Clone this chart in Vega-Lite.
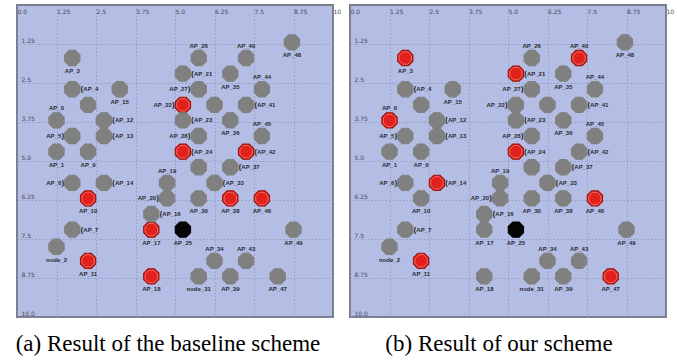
{
  "$schema": "https://vega.github.io/schema/vega-lite/v6.json",
  "padding": {"left": 14, "top": 4, "right": 0, "bottom": 0},
  "background": "white",
  "bounds": "flush",
  "spacing": 17,
  "config": {
    "view": {"fill": "#b4bde3", "stroke": "#7a7c8c", "strokeWidth": 2},
    "axis": {
      "title": null,
      "domain": false,
      "ticks": false,
      "tickSize": 0,
      "labelFont": "DejaVu Sans",
      "labelFontSize": 6,
      "labelColor": "#4a4a58",
      "labelOverlap": false,
      "labelBound": false,
      "labelFlush": false,
      "grid": true,
      "gridDash": [1.5, 2],
      "gridColor": "#8b94bd",
      "gridWidth": 0.8
    },
    "title": {"font": "Liberation Serif", "fontSize": 23, "fontWeight": "normal", "color": "#000000", "orient": "bottom", "anchor": "middle", "offset": 16}
  },
  "datasets": {
    "nodes": [
      {"label": "AP_3", "x": 1.75, "y": 1.7, "a": "idle", "b": "active"},
      {"label": "AP_4", "x": 1.75, "y": 2.7, "a": "idle", "b": "idle"},
      {"label": "AP_15", "x": 3.25, "y": 2.7, "a": "idle", "b": "idle"},
      {"label": "", "x": 2.25, "y": 3.2, "a": "idle", "b": "idle"},
      {"label": "AP_0", "x": 1.25, "y": 3.7, "a": "idle", "b": "active"},
      {"label": "AP_12", "x": 2.75, "y": 3.7, "a": "idle", "b": "idle"},
      {"label": "AP_5", "x": 1.75, "y": 4.2, "a": "idle", "b": "idle"},
      {"label": "AP_13", "x": 2.75, "y": 4.2, "a": "idle", "b": "idle"},
      {"label": "AP_1", "x": 1.25, "y": 4.7, "a": "idle", "b": "idle"},
      {"label": "AP_9", "x": 2.25, "y": 4.7, "a": "idle", "b": "idle"},
      {"label": "AP_6", "x": 1.75, "y": 5.7, "a": "idle", "b": "idle"},
      {"label": "AP_14", "x": 2.75, "y": 5.7, "a": "idle", "b": "active"},
      {"label": "AP_10", "x": 2.25, "y": 6.2, "a": "active", "b": "idle"},
      {"label": "AP_7", "x": 1.75, "y": 7.2, "a": "idle", "b": "idle"},
      {"label": "node_2", "x": 1.25, "y": 7.75, "a": "idle", "b": "idle"},
      {"label": "AP_11", "x": 2.25, "y": 8.2, "a": "active", "b": "active"},
      {"label": "AP_17", "x": 4.25, "y": 7.2, "a": "active", "b": "idle"},
      {"label": "AP_18", "x": 4.25, "y": 8.7, "a": "active", "b": "idle"},
      {"label": "AP_20", "x": 4.75, "y": 6.2, "a": "idle", "b": "idle"},
      {"label": "AP_16", "x": 4.25, "y": 6.7, "a": "idle", "b": "idle"},
      {"label": "AP_19", "x": 4.75, "y": 5.7, "a": "idle", "b": "idle"},
      {"label": "AP_24", "x": 5.25, "y": 4.7, "a": "active", "b": "active"},
      {"label": "AP_42", "x": 7.25, "y": 4.7, "a": "active", "b": "idle"},
      {"label": "", "x": 5.75, "y": 5.2, "a": "idle", "b": "idle"},
      {"label": "AP_37", "x": 6.75, "y": 5.2, "a": "idle", "b": "idle"},
      {"label": "AP_33", "x": 6.25, "y": 5.7, "a": "idle", "b": "idle"},
      {"label": "AP_30", "x": 5.75, "y": 6.2, "a": "idle", "b": "idle"},
      {"label": "AP_38", "x": 6.75, "y": 6.2, "a": "active", "b": "idle"},
      {"label": "AP_46", "x": 7.75, "y": 6.2, "a": "active", "b": "active"},
      {"label": "AP_25", "x": 5.25, "y": 7.2, "a": "sink", "b": "sink"},
      {"label": "AP_49", "x": 8.75, "y": 7.2, "a": "idle", "b": "idle"},
      {"label": "AP_34", "x": 6.25, "y": 8.2, "a": "idle", "b": "idle"},
      {"label": "AP_43", "x": 7.25, "y": 8.2, "a": "idle", "b": "idle"},
      {"label": "node_31", "x": 5.75, "y": 8.7, "a": "idle", "b": "idle"},
      {"label": "AP_39", "x": 6.75, "y": 8.7, "a": "idle", "b": "idle"},
      {"label": "AP_47", "x": 8.25, "y": 8.7, "a": "idle", "b": "active"},
      {"label": "AP_26", "x": 5.75, "y": 1.7, "a": "idle", "b": "idle"},
      {"label": "AP_40", "x": 7.25, "y": 1.7, "a": "idle", "b": "active"},
      {"label": "AP_48", "x": 8.7, "y": 1.2, "a": "idle", "b": "idle"},
      {"label": "AP_21", "x": 5.25, "y": 2.2, "a": "idle", "b": "active"},
      {"label": "AP_35", "x": 6.75, "y": 2.2, "a": "idle", "b": "idle"},
      {"label": "AP_27", "x": 5.75, "y": 2.7, "a": "idle", "b": "idle"},
      {"label": "AP_44", "x": 7.75, "y": 2.7, "a": "idle", "b": "idle"},
      {"label": "AP_22", "x": 5.25, "y": 3.2, "a": "active", "b": "idle"},
      {"label": "", "x": 6.25, "y": 3.2, "a": "idle", "b": "idle"},
      {"label": "AP_41", "x": 7.25, "y": 3.2, "a": "idle", "b": "idle"},
      {"label": "AP_23", "x": 5.25, "y": 3.7, "a": "idle", "b": "idle"},
      {"label": "AP_36", "x": 6.75, "y": 3.7, "a": "idle", "b": "idle"},
      {"label": "AP_45", "x": 7.75, "y": 4.2, "a": "idle", "b": "idle"},
      {"label": "AP_28", "x": 5.75, "y": 4.2, "a": "idle", "b": "idle"}
    ]
  },
  "hconcat": [
    {
      "width": 316,
      "height": 312,
      "data": {"name": "nodes"},
      "title": {"text": "(a) Result of the baseline scheme", "dx": -7},
      "encoding": {
        "x": {"field": "x", "type": "quantitative", "scale": {"domain": [0, 10], "nice": false, "zero": false},
          "axis": {"orient": "top", "values": [0, 1.25, 2.5, 3.75, 5, 6.25, 7.5, 8.75, 10], "labelAlign": "left", "labelBaseline": "top", "labelPadding": -3, "labelExpr": "datum.value == 10 ? '10' : (datum.value % 1 == 0 ? format(datum.value, '.1f') : format(datum.value, '.2~f'))"}},
        "y": {"field": "y", "type": "quantitative", "scale": {"domain": [0, 10], "nice": false, "zero": false, "reverse": true},
          "axis": {"orient": "left", "values": [1.25, 2.5, 3.75, 5, 6.25, 7.5, 8.75, 10], "labelAlign": "left", "labelBaseline": "bottom", "labelPadding": -4, "labelOffset": -1, "labelExpr": "datum.value % 1 == 0 ? format(datum.value, '.1f') : format(datum.value, '.2~f')"}}
      },
      "layer": [
        {"mark": {"type": "point", "shape": "M -0.414 -1 L 0.414 -1 L 1 -0.414 L 1 0.414 L 0.414 1 L -0.414 1 L -1 0.414 L -1 -0.414 Z", "filled": true, "size": 230, "opacity": 1, "strokeWidth": 1.2},
         "encoding": {
           "fill": {"field": "a", "type": "nominal", "scale": {"domain": ["idle", "active", "sink"], "range": ["#808080", "#e3211c", "#050505"]}, "legend": null},
           "stroke": {"field": "a", "type": "nominal", "scale": {"domain": ["idle", "active", "sink"], "range": ["#808080", "#9c1410", "#050505"]}, "legend": null}
         }},
        {"transform": [{"filter": "datum.a == 'active'"}],
         "mark": {"type": "point", "shape": "M -0.414 -1 L 0.414 -1 L 1 -0.414 L 1 0.414 L 0.414 1 L -0.414 1 L -1 0.414 L -1 -0.414 Z", "filled": false, "size": 150, "opacity": 1, "stroke": "#f27d74", "strokeWidth": 0.8}},
        {"transform": [{"filter": "isValid(datum.label) && length(datum.label) > 0 && indexof(['AP_0','AP_19','AP_34','AP_43','AP_26','AP_40','AP_44','AP_45','AP_4','AP_12','AP_13','AP_14','AP_7','AP_16','AP_24','AP_42','AP_37','AP_33','AP_21','AP_41','AP_23','AP_5','AP_6','AP_20','AP_27','AP_22','AP_28'], datum.label) < 0"}],
         "mark": {"type": "text", "font": "Liberation Sans", "fontWeight": "bold", "fontSize": 6, "color": "#2b2b33", "dy": 13, "baseline": "middle"},
         "encoding": {"text": {"field": "label"}}},
        {"transform": [{"filter": {"field": "label", "oneOf": ["AP_0","AP_19","AP_34","AP_43","AP_26","AP_40","AP_44","AP_45"]}}],
         "mark": {"type": "text", "font": "Liberation Sans", "fontWeight": "bold", "fontSize": 6, "color": "#2b2b33", "dy": -12, "baseline": "middle"},
         "encoding": {"text": {"field": "label"}}},
        {"transform": [{"filter": {"field": "label", "oneOf": ["AP_4","AP_12","AP_13","AP_14","AP_7","AP_16","AP_24","AP_42","AP_37","AP_33","AP_21","AP_41","AP_23"]}}],
         "mark": {"type": "text", "font": "Liberation Sans", "fontWeight": "bold", "fontSize": 6, "color": "#2b2b33", "dx": 11, "align": "left", "baseline": "middle"},
         "encoding": {"text": {"field": "label"}}},
        {"transform": [{"filter": {"field": "label", "oneOf": ["AP_4","AP_12","AP_13","AP_14","AP_7","AP_16","AP_24","AP_42","AP_37","AP_33","AP_21","AP_41","AP_23"]}}],
         "mark": {"type": "text", "font": "Liberation Sans", "fontWeight": "bold", "fontSize": 7, "color": "#111111", "dx": 9.5, "align": "center", "baseline": "middle", "text": "("},
         "encoding": {}},
        {"transform": [{"filter": {"field": "label", "oneOf": ["AP_5","AP_6","AP_20","AP_27","AP_22","AP_28"]}}],
         "mark": {"type": "text", "font": "Liberation Sans", "fontWeight": "bold", "fontSize": 6, "color": "#2b2b33", "dx": -11, "align": "right", "baseline": "middle"},
         "encoding": {"text": {"field": "label"}}},
        {"transform": [{"filter": {"field": "label", "oneOf": ["AP_5","AP_6","AP_20","AP_27","AP_22","AP_28"]}}],
         "mark": {"type": "text", "font": "Liberation Sans", "fontWeight": "bold", "fontSize": 7, "color": "#111111", "dx": -9.5, "align": "center", "baseline": "middle", "text": ")"},
         "encoding": {}}
      ]
    },
    {
      "width": 316,
      "height": 312,
      "data": {"name": "nodes"},
      "title": {"text": "(b) Result of our scheme", "dx": -9},
      "encoding": {
        "x": {"field": "x", "type": "quantitative", "scale": {"domain": [0, 10], "nice": false, "zero": false},
          "axis": {"orient": "top", "values": [0, 1.25, 2.5, 3.75, 5, 6.25, 7.5, 8.75, 10], "labelAlign": "left", "labelBaseline": "top", "labelPadding": -3, "labelExpr": "datum.value == 10 ? '10' : (datum.value % 1 == 0 ? format(datum.value, '.1f') : format(datum.value, '.2~f'))"}},
        "y": {"field": "y", "type": "quantitative", "scale": {"domain": [0, 10], "nice": false, "zero": false, "reverse": true},
          "axis": {"orient": "left", "values": [1.25, 2.5, 3.75, 5, 6.25, 7.5, 8.75, 10], "labelAlign": "left", "labelBaseline": "bottom", "labelPadding": -4, "labelOffset": -1, "labelExpr": "datum.value % 1 == 0 ? format(datum.value, '.1f') : format(datum.value, '.2~f')"}}
      },
      "layer": [
        {"mark": {"type": "point", "shape": "M -0.414 -1 L 0.414 -1 L 1 -0.414 L 1 0.414 L 0.414 1 L -0.414 1 L -1 0.414 L -1 -0.414 Z", "filled": true, "size": 230, "opacity": 1, "strokeWidth": 1.2},
         "encoding": {
           "fill": {"field": "b", "type": "nominal", "scale": {"domain": ["idle", "active", "sink"], "range": ["#808080", "#e3211c", "#050505"]}, "legend": null},
           "stroke": {"field": "b", "type": "nominal", "scale": {"domain": ["idle", "active", "sink"], "range": ["#808080", "#9c1410", "#050505"]}, "legend": null}
         }},
        {"transform": [{"filter": "datum.b == 'active'"}],
         "mark": {"type": "point", "shape": "M -0.414 -1 L 0.414 -1 L 1 -0.414 L 1 0.414 L 0.414 1 L -0.414 1 L -1 0.414 L -1 -0.414 Z", "filled": false, "size": 150, "opacity": 1, "stroke": "#f27d74", "strokeWidth": 0.8}},
        {"transform": [{"filter": "isValid(datum.label) && length(datum.label) > 0 && indexof(['AP_0','AP_19','AP_34','AP_43','AP_26','AP_40','AP_44','AP_45','AP_4','AP_12','AP_13','AP_14','AP_7','AP_16','AP_24','AP_42','AP_37','AP_33','AP_21','AP_41','AP_23','AP_5','AP_6','AP_20','AP_27','AP_22','AP_28'], datum.label) < 0"}],
         "mark": {"type": "text", "font": "Liberation Sans", "fontWeight": "bold", "fontSize": 6, "color": "#2b2b33", "dy": 13, "baseline": "middle"},
         "encoding": {"text": {"field": "label"}}},
        {"transform": [{"filter": {"field": "label", "oneOf": ["AP_0","AP_19","AP_34","AP_43","AP_26","AP_40","AP_44","AP_45"]}}],
         "mark": {"type": "text", "font": "Liberation Sans", "fontWeight": "bold", "fontSize": 6, "color": "#2b2b33", "dy": -12, "baseline": "middle"},
         "encoding": {"text": {"field": "label"}}},
        {"transform": [{"filter": {"field": "label", "oneOf": ["AP_4","AP_12","AP_13","AP_14","AP_7","AP_16","AP_24","AP_42","AP_37","AP_33","AP_21","AP_41","AP_23"]}}],
         "mark": {"type": "text", "font": "Liberation Sans", "fontWeight": "bold", "fontSize": 6, "color": "#2b2b33", "dx": 11, "align": "left", "baseline": "middle"},
         "encoding": {"text": {"field": "label"}}},
        {"transform": [{"filter": {"field": "label", "oneOf": ["AP_4","AP_12","AP_13","AP_14","AP_7","AP_16","AP_24","AP_42","AP_37","AP_33","AP_21","AP_41","AP_23"]}}],
         "mark": {"type": "text", "font": "Liberation Sans", "fontWeight": "bold", "fontSize": 7, "color": "#111111", "dx": 9.5, "align": "center", "baseline": "middle", "text": "("},
         "encoding": {}},
        {"transform": [{"filter": {"field": "label", "oneOf": ["AP_5","AP_6","AP_20","AP_27","AP_22","AP_28"]}}],
         "mark": {"type": "text", "font": "Liberation Sans", "fontWeight": "bold", "fontSize": 6, "color": "#2b2b33", "dx": -11, "align": "right", "baseline": "middle"},
         "encoding": {"text": {"field": "label"}}},
        {"transform": [{"filter": {"field": "label", "oneOf": ["AP_5","AP_6","AP_20","AP_27","AP_22","AP_28"]}}],
         "mark": {"type": "text", "font": "Liberation Sans", "fontWeight": "bold", "fontSize": 7, "color": "#111111", "dx": -9.5, "align": "center", "baseline": "middle", "text": ")"},
         "encoding": {}}
      ]
    }
  ]
}
